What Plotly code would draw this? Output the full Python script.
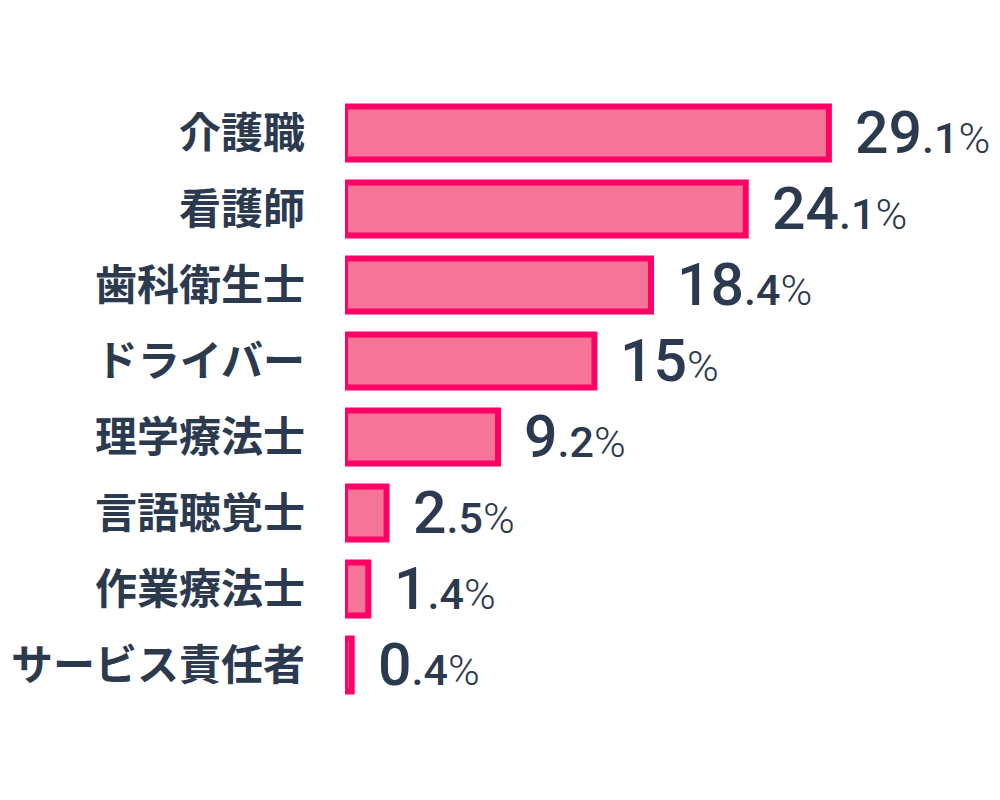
import plotly.graph_objects as go

# データ
categories = ["介護職", "看護師", "歯科衛生士", "ドライバー", "理学療法士", "言語聴覚士", "作業療法士", "サービス責任者"]
values = [29.1, 24.1, 18.4, 15, 9.2, 2.5, 1.4, 0.4]
value_labels = ["29.1", "24.1", "18.4", "15", "9.2", "2.5", "1.4", "0.4"]

navy = "#2b3a4f"
num_font = "Roboto, sans-serif"

fig = go.Figure()

fig.add_trace(go.Bar(
    x=values,
    y=categories,
    orientation="h",
    marker=dict(color="#f47598", line=dict(color="#ff0066", width=6)),
    width=0.7,
    hoverinfo="skip",
))

# 値ラベル (整数部を大きく、小数部と%を小さく)
annotations = []
for cat, v, lab in zip(categories, values, value_labels):
    if "." in lab:
        a, b = lab.split(".")
        txt = ("<span style='font-size:59px;font-weight:500'>" + a + "</span>"
               "<span style='font-size:43px;font-weight:500'>." + b + "</span>"
               "<span style='font-size:43px;font-weight:300'>%</span>")
    else:
        txt = ("<span style='font-size:59px;font-weight:500'>" + lab + "</span>"
               "<span style='font-size:43px;font-weight:300'>%</span>")
    annotations.append(dict(
        x=v, y=cat, xref="x", yref="y",
        text=txt, showarrow=False,
        xanchor="left", yanchor="middle", xshift=24, yshift=1,
        font=dict(family=num_font, color=navy, size=59),
    ))

fig.update_layout(
    width=1000, height=800,
    margin=dict(l=337, r=0, t=87, b=105),
    paper_bgcolor="white", plot_bgcolor="white",
    showlegend=False,
    annotations=annotations,
    xaxis=dict(range=[0, 39.87], visible=False, automargin=False),
    yaxis=dict(
        autorange="reversed", automargin=False,
        showgrid=False, zeroline=False, showline=False,
        ticks="", ticklabelstandoff=39,
        tickfont=dict(family="Noto Sans CJK JP", size=42, color=navy, weight="bold"),
    ),
)

fig.write_html("out.html")
